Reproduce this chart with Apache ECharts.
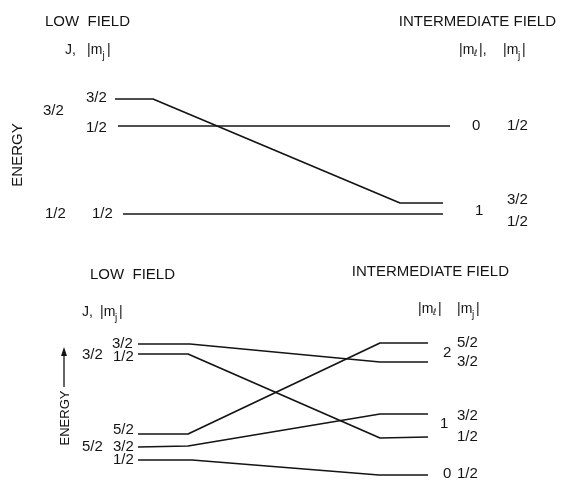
<!DOCTYPE html>
<html lang="en">
<head>
  <meta charset="UTF-8" />
  <title>Fine structure levels: low field vs intermediate field</title>
  <script src="https://cdn.jsdelivr.net/npm/echarts@6.0.0/dist/echarts.min.js"></script>
  <style>
    html, body { margin: 0; padding: 0; background: #fff; }
    #chart { width: 569px; height: 483px; }
  </style>
</head>
<body>
  <div id="chart"></div>
  <script>
    // field position of each bend (low field -> intermediate field), one row per level
    const topField = [
      [115, 153, 400, 443],   // J=3/2, |mj|=3/2
      [118, 450],             // J=3/2, |mj|=1/2
      [123, 443]              // J=1/2, |mj|=1/2
    ];
    // energy (arbitrary units) at each bend
    const topEnergy = [
      [131, 131, 27, 27],
      [104, 104],
      [16, 16]
    ];

    const bottomField = [
      [138, 190, 380, 428],   // J=3/2, |mj|=3/2
      [138, 188, 380, 428],   // J=3/2, |mj|=1/2
      [138, 188, 380, 428],   // J=5/2, |mj|=5/2
      [138, 188, 380, 428],   // J=5/2, |mj|=3/2
      [138, 192, 379, 428]    // J=5/2, |mj|=1/2
    ];
    const bottomEnergy = [
      [136, 136, 118, 118],
      [126, 126, 42, 43],
      [46, 46, 137, 137],
      [33, 34, 66, 66],
      [20, 20, 5, 5]
    ];

    const INK = '#141414';
    const FONT = '"Liberation Sans", Arial, sans-serif';
    const SCRIPT_FONT = '"DejaVu Sans", sans-serif';

    function pairs(xs, ys) {
      return xs.map((x, i) => [x, ys[i]]);
    }

    function levelSeries(fields, energies, idx) {
      return fields.map((f, i) => ({
        type: 'line',
        xAxisIndex: idx,
        yAxisIndex: idx,
        data: pairs(f, energies[i]),
        symbol: 'none',
        silent: true,
        animation: false,
        lineStyle: { color: INK, width: 1.7 }
      }));
    }

    // text annotations: [text, x, y, size, align, font]
    const labels = [
      ['LOW  FIELD', 45, 22, 15, 'left'],
      ['INTERMEDIATE FIELD', 556, 22, 15, 'right'],
      ['J,', 65, 50, 14, 'left'],
      ['|m', 87, 50, 14, 'left'], ['j', 102.5, 56, 10, 'left'], ['|', 107, 50, 14, 'left'],
      ['|m', 459, 50, 14, 'left'], ['ℓ', 474, 54, 9, 'left', SCRIPT_FONT], ['|,', 479, 50, 14, 'left'],
      ['|m', 503, 50, 14, 'left'], ['j', 518, 56, 10, 'left'], ['|', 522, 50, 14, 'left'],
      ['3/2', 43, 111, 15, 'left'],
      ['3/2', 86, 98, 15, 'left'],
      ['1/2', 86, 128, 15, 'left'],
      ['1/2', 45, 214, 15, 'left'],
      ['1/2', 92, 214, 15, 'left'],
      ['0', 472, 126, 15, 'left'], ['1/2', 507, 126, 15, 'left'],
      ['3/2', 507, 200, 15, 'left'], ['1', 475, 211, 15, 'left'], ['1/2', 507, 222, 15, 'left'],

      ['LOW  FIELD', 90, 275, 15, 'left'],
      ['INTERMEDIATE FIELD', 509, 272, 15, 'right'],
      ['J,', 82, 312, 14, 'left'],
      ['|m', 100, 312, 14, 'left'], ['j', 115, 318, 10, 'left'], ['|', 119, 312, 14, 'left'],
      ['|m', 418, 309, 14, 'left'], ['ℓ', 433, 313, 9, 'left', SCRIPT_FONT], ['|', 438, 309, 14, 'left'],
      ['|m', 457, 309, 14, 'left'], ['j', 472, 315, 10, 'left'], ['|', 476, 309, 14, 'left'],
      ['3/2', 112, 344, 15, 'left'],
      ['3/2', 82, 355, 15, 'left'],
      ['1/2', 113, 357, 15, 'left'],
      ['5/2', 113, 430, 15, 'left'],
      ['5/2', 82, 447, 15, 'left'],
      ['3/2', 113, 447, 15, 'left'],
      ['1/2', 113, 460, 15, 'left'],
      ['2', 443, 353, 15, 'left'], ['5/2', 457, 343, 15, 'left'], ['3/2', 457, 362, 15, 'left'],
      ['1', 440, 424, 15, 'left'], ['3/2', 457, 416, 15, 'left'], ['1/2', 457, 437, 15, 'left'],
      ['0', 443, 474, 15, 'left'], ['1/2', 457, 474, 15, 'left']
    ];

    const graphic = labels.map(([t, x, y, size, align, font]) => ({
      type: 'text',
      x: x, y: y,
      silent: true,
      style: {
        text: t, fill: INK, font: size + 'px ' + (font || FONT),
        align: align, verticalAlign: 'middle'
      }
    }));

    // ENERGY axis titles (rotated)
    graphic.push({
      type: 'text', x: 18, y: 155, rotation: Math.PI / 2, silent: true,
      style: { text: 'ENERGY', fill: INK, font: '15px ' + FONT, align: 'center', verticalAlign: 'middle' }
    });
    graphic.push({
      type: 'text', x: 65, y: 418, rotation: Math.PI / 2, silent: true,
      style: { text: 'ENERGY', fill: INK, font: '13px ' + FONT, align: 'center', verticalAlign: 'middle' }
    });
    graphic.push({
      type: 'line', silent: true,
      shape: { x1: 64, y1: 387, x2: 64, y2: 354 },
      style: { stroke: INK, lineWidth: 1.3 }
    });
    graphic.push({
      type: 'polygon', silent: true,
      shape: { points: [[64, 347], [61, 356], [67, 356]] },
      style: { fill: INK }
    });

    const chart = echarts.init(document.getElementById('chart'));
    chart.setOption({
      backgroundColor: '#ffffff',
      animation: false,
      grid: [
        { left: 0, right: 0, top: 80, height: 150 },
        { left: 0, right: 0, top: 330, height: 150 }
      ],
      xAxis: [
        { type: 'value', gridIndex: 0, min: 0, max: 569, show: false },
        { type: 'value', gridIndex: 1, min: 0, max: 569, show: false }
      ],
      yAxis: [
        { type: 'value', gridIndex: 0, min: 0, max: 150, show: false },
        { type: 'value', gridIndex: 1, min: 0, max: 150, show: false }
      ],
      series: levelSeries(topField, topEnergy, 0).concat(levelSeries(bottomField, bottomEnergy, 1)),
      graphic: graphic
    });
  </script>
</body>
</html>
